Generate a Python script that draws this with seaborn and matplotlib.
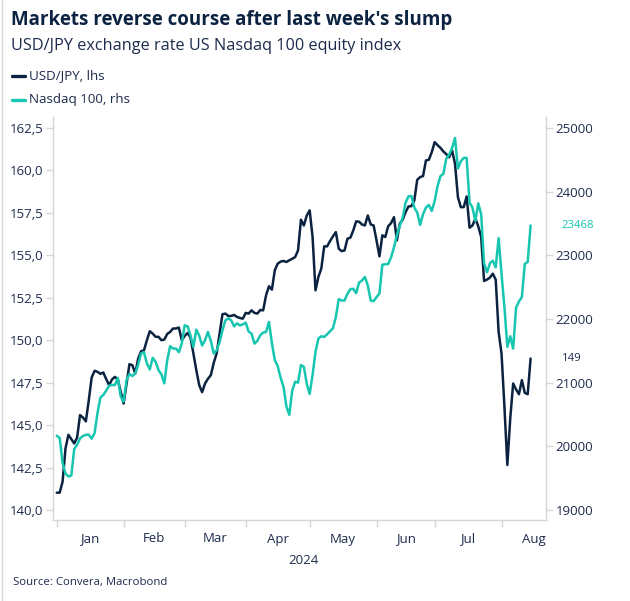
import numpy as np
import pandas as pd
import matplotlib
matplotlib.use("Agg")
import matplotlib.pyplot as plt
import seaborn as sns
from matplotlib.lines import Line2D
from matplotlib.ticker import FuncFormatter

# daily closes, business days 2 Jan - 15 Aug 2024
usd_jpy = [
    141.02, 141.02, 141.67, 143.63, 144.43, 144.18, 143.92, 144.27, 145.59, 145.45,
    145.22, 146.45, 147.80, 148.20, 148.14, 148.02, 148.10, 147.71, 147.35, 147.69,
    147.84, 147.69, 146.96, 146.27, 147.45, 148.59, 148.53, 148.04, 148.92, 149.35,
    149.41, 150.00, 150.53, 150.39, 150.20, 150.20, 150.00, 150.04, 150.37, 150.49,
    150.69, 150.69, 150.75, 150.00, 150.25, 150.43, 150.16, 149.22, 148.24, 147.35,
    146.94, 147.45, 147.73, 147.94, 148.67, 149.22, 150.39, 151.53, 151.57, 151.43,
    151.43, 151.49, 151.37, 151.31, 151.27, 151.61, 151.57, 151.76, 151.61, 151.57,
    151.78, 151.76, 152.65, 153.18, 152.98, 154.12, 154.51, 154.63, 154.67, 154.61,
    154.71, 154.80, 154.90, 155.29, 157.10, 156.76, 157.35, 157.65, 156.08, 152.94,
    153.73, 154.22, 155.53, 155.53, 155.84, 156.12, 156.37, 155.39, 155.25, 155.29,
    155.98, 156.04, 156.47, 157.00, 156.98, 156.82, 156.76, 157.35, 156.82, 156.76,
    155.88, 154.94, 156.18, 156.08, 156.71, 156.90, 157.25, 155.88, 156.86, 157.10,
    157.55, 157.88, 157.90, 158.24, 159.45, 159.61, 159.67, 160.59, 160.63, 161.08,
    161.67, 161.49, 161.33, 161.12, 160.96, 160.78, 161.18, 160.39, 158.43, 157.84,
    157.84, 158.47, 156.63, 156.76, 157.16, 156.71, 156.08, 153.49, 153.57, 153.69,
    153.92, 153.57, 150.49, 149.22, 146.08, 142.65, 145.39, 147.45, 147.10, 146.82,
    147.65, 146.90, 146.82, 148.92,
]
nasdaq_100 = [
    20167, 20130, 19740, 19573, 19526, 19542, 19958, 20026, 20125, 20161,
    20182, 20182, 20120, 20208, 20521, 20766, 20807, 20875, 20953, 20963,
    20963, 21073, 20781, 20703, 21042, 21135, 21104, 21146, 21281, 21458,
    21479, 21302, 21208, 21390, 21328, 21198, 21130, 20989, 21354, 21573,
    21536, 21536, 21479, 21614, 21901, 21885, 21745, 21562, 21833, 21739,
    21583, 21666, 21797, 21656, 21458, 21510, 21635, 21823, 21979, 22010,
    21979, 21885, 21932, 21901, 21916, 21943, 21802, 21771, 21614, 21656,
    21745, 21786, 21797, 21953, 21625, 21354, 21260, 21078, 20937, 20625,
    20495, 20875, 21015, 21000, 21276, 21250, 20979, 20823, 21120, 21484,
    21693, 21729, 21719, 21760, 21807, 21854, 22031, 22312, 22291, 22291,
    22396, 22469, 22474, 22406, 22573, 22604, 22661, 22526, 22291, 22281,
    22344, 22401, 22854, 22859, 22864, 22968, 23125, 23317, 23463, 23593,
    23828, 23927, 23932, 23750, 23672, 23479, 23646, 23750, 23791, 23698,
    23854, 24088, 24245, 24281, 24520, 24583, 24687, 24843, 24364, 24479,
    24531, 24531, 23828, 23750, 23541, 23817, 23646, 22875, 22734, 22875,
    22916, 22812, 23271, 22708, 22187, 21562, 21729, 21536, 22177, 22276,
    22344, 22864, 22896, 23468,
]
month_labels = ["Jan", "Feb", "Mar", "Apr", "May", "Jun", "Jul", "Aug"]
left_ticks = [140.0, 142.5, 145.0, 147.5, 150.0, 152.5, 155.0, 157.5, 160.0, 162.5]
right_ticks = [19000, 20000, 21000, 22000, 23000, 24000, 25000]

title = "Markets reverse course after last week's slump"
subtitle = "USD/JPY exchange rate US Nasdaq 100 equity index"
source = "Source: Convera, Macrobond"

NAVY = "#0b2341"
TEAL = "#17c6b0"
TEXT = "#1d2b4c"
LIGHT = "#d6d6d6"

dates = pd.bdate_range("2024-01-01", "2024-08-15")
df = pd.DataFrame({"date": dates, "usd_jpy": usd_jpy, "nasdaq": nasdaq_100})
# Macrobond-style axis: one step per observation
df["obs"] = np.arange(len(df))

sns.set_theme(style="white")
plt.rcParams["font.family"] = ["Open Sans", "DejaVu Sans"]

W, H = 630, 601
fig = plt.figure(figsize=(W / 100, H / 100), dpi=100)
ax = fig.add_axes([53 / W, 1 - 520 / H, (546 - 53) / W, (520 - 117) / H])
ax2 = ax.twinx()

sns.lineplot(data=df, x="obs", y="usd_jpy", ax=ax, color=NAVY, lw=1.8)
sns.lineplot(data=df, x="obs", y="nasdaq", ax=ax2, color=TEAL, lw=1.8)

ax.set_ylim(139.41, 163.15)
ax2.set_ylim(18843, 25173)
ax.set_xlim(-1.3, 168.3)

for a in (ax, ax2):
    a.set_xlabel("")
    a.set_ylabel("")
    for s in a.spines.values():
        s.set_visible(False)
ax.spines["left"].set_visible(True)
ax.spines["bottom"].set_visible(True)
ax2.spines["right"].set_visible(True)
for s in (ax.spines["left"], ax.spines["bottom"], ax2.spines["right"]):
    s.set_color(LIGHT)
    s.set_linewidth(1.0)

ax.set_yticks(left_ticks)
ax.yaxis.set_major_formatter(FuncFormatter(lambda v, p: f"{v:.1f}".replace(".", ",")))
ax.tick_params(axis="y", left=True, length=5, width=1, color=LIGHT,
               labelcolor=TEXT, labelsize=9.5, pad=2)
ax2.set_yticks(right_ticks)
ax2.tick_params(axis="y", right=True, length=5, width=1, color=LIGHT,
                labelcolor=TEXT, labelsize=9.5, pad=2)

# month ticks at first business day, labels centred in each month
starts = df.groupby(df["date"].dt.month)["obs"].min().tolist()
aug_len = len(pd.bdate_range("2024-08-01", "2024-08-31"))
ends = starts[1:] + [starts[-1] + aug_len]
mids = [(s + e) / 2 for s, e in zip(starts, ends)]
ax.set_xticks(starts)
ax.set_xticklabels([""] * len(starts))
ax.set_xticks(mids, minor=True)
ax.set_xticklabels(month_labels, minor=True)
ax.tick_params(axis="x", which="major", bottom=True, length=5, width=1, color=LIGHT)
ax.tick_params(axis="x", which="minor", bottom=True, length=0, pad=9,
               labelcolor=TEXT, labelsize=9.5)

# last-value labels
ax2.annotate(f"{nasdaq_100[-1]:.0f}", xy=(1, nasdaq_100[-1]),
             xycoords=("axes fraction", "data"), xytext=(15, 0),
             textcoords="offset pixels", color=TEAL, fontsize=8.2, va="center")
ax.annotate(f"{usd_jpy[-1]:.0f}", xy=(1, usd_jpy[-1]),
            xycoords=("axes fraction", "data"), xytext=(16, 0),
            textcoords="offset pixels", color=TEXT, fontsize=8.2, va="center")

fig.text(303 / W, 1 - 561 / H, "2024", ha="center", va="center",
         color=TEXT, fontsize=9.5)

fig.text(11 / W, 1 - 20 / H, title, ha="left", va="center",
         color=NAVY, fontsize=13.5, fontweight="bold")
fig.text(11 / W, 1 - 46 / H, subtitle, ha="left", va="center",
         color=TEXT, fontsize=11.7)

legend_rows = [("USD/JPY, lhs", NAVY, 76), ("Nasdaq 100, rhs", TEAL, 100)]
for label, col, yy in legend_rows:
    fig.add_artist(Line2D([12 / W, 25 / W], [1 - yy / H, 1 - yy / H],
                          color=col, lw=2.4, transform=fig.transFigure))
    fig.text(29 / W, 1 - yy / H, label, ha="left", va="center",
             color=TEXT, fontsize=9.6)

fig.text(13 / W, 1 - 583 / H, source, ha="left", va="center",
         color=TEXT, fontsize=8.2)

# card border on the left edge
fig.add_artist(Line2D([1.5 / W, 1.5 / W], [0, 1], color=LIGHT, lw=1,
                      transform=fig.transFigure))

fig.savefig("out.png", dpi=100)
